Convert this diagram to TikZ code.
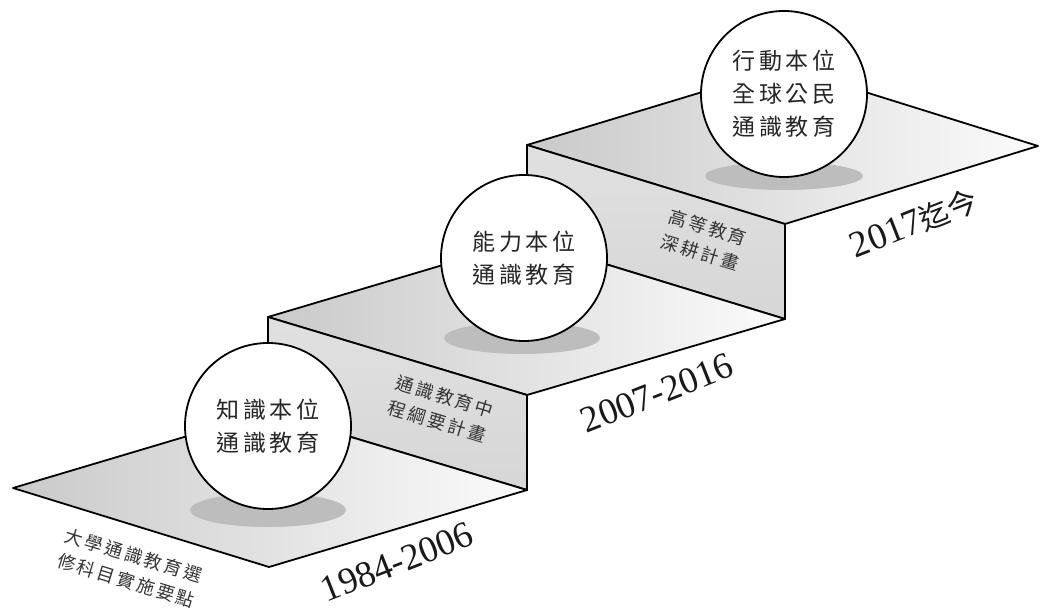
\documentclass[tikz,border=0pt]{standalone}
\usepackage{fontspec}
\setmainfont{Liberation Serif}
\newfontfamily\cjk[LetterSpace=15]{Noto Sans CJK TC}
\newfontfamily\cjkplain{Noto Sans CJK TC}
\begin{document}
\begin{tikzpicture}[x=1pt,y=-1pt,
  edge/.style={line width=1.8pt, line join=round, draw=black},
  floor/.style={edge, left color=gray!42, right color=gray!3},
  riser/.style={edge, top color=gray!24, bottom color=gray!32},
  shadowc/.style={fill=gray!52},
  ball/.style={circle, draw=black, fill=white, line width=1.8pt, minimum size=166pt, inner sep=0pt,
    align=center, font=\cjk\fontsize{23}{33}\selectfont, text=black!85},
  riserlabel/.style={align=center, font=\cjk\fontsize{18}{26}\selectfont, text=black!80, rotate=-17},
  year/.style={font=\fontsize{37}{40}\selectfont, text=black!90, rotate=21.5, inner sep=0pt}
]
\useasboundingbox (0,0) rectangle (1040,612);
% coordinates
\coordinate (s3l) at (527,145); \coordinate (s3b) at (785,224);
\coordinate (s3r) at (1038,146); \coordinate (s3t) at (785,67);
\coordinate (s2l) at (268,317); \coordinate (s2b) at (527,395);
\coordinate (s2r) at (785,319); \coordinate (s2t) at (527,240);
\coordinate (s1l) at (13,488);  \coordinate (s1b) at (269,567);
\coordinate (s1r) at (527,490); \coordinate (s1t) at (268,412);
% step 3
\shade[floor] (s3l) -- (s3t) -- (s3r) -- (s3b) -- cycle;
\shade[riser] (s3l) -- (s3b) -- (s2r) -- (s2t) -- cycle;
\fill[shadowc] (784,176) ellipse [x radius=79pt, y radius=14pt];
\node[ball] (c3) at (784,94) {行動本位\\全球公民\\通識教育};
% step 2
\shade[floor] (s2l) -- (s2t) -- (s2r) -- (s2b) -- cycle;
\shade[riser] (s2l) -- (s2b) -- (s1r) -- (s1t) -- cycle;
\fill[shadowc] (522,338) ellipse [x radius=78pt, y radius=16pt];
\node[ball] (c2) at (524,258) {能力本位\\通識教育};
% step 1
\shade[floor] (s1l) -- (s1t) -- (s1r) -- (s1b) -- cycle;
\fill[shadowc] (268,510) ellipse [x radius=78pt, y radius=17pt];
\node[ball] (c1) at (268,426) {知識本位\\通識教育};
% riser labels
\node[riserlabel] (r1) at (441,409) {通識教育中\\程綱要計畫};
\node[riserlabel] (r2) at (704,240) {高等教育\\深耕計畫};
\node[riserlabel] (b1) at (130,568) {大學通識教育選\\修科目實施要點};
% years
\node[year] (y1) at (397,562) {1984-2006};
\node[year] (y2) at (657,393) {2007-2016};
\node[year] (y3) at (914,223) {2017{\cjkplain\fontsize{30}{34}\selectfont 迄今}};
\end{tikzpicture}
\end{document}
